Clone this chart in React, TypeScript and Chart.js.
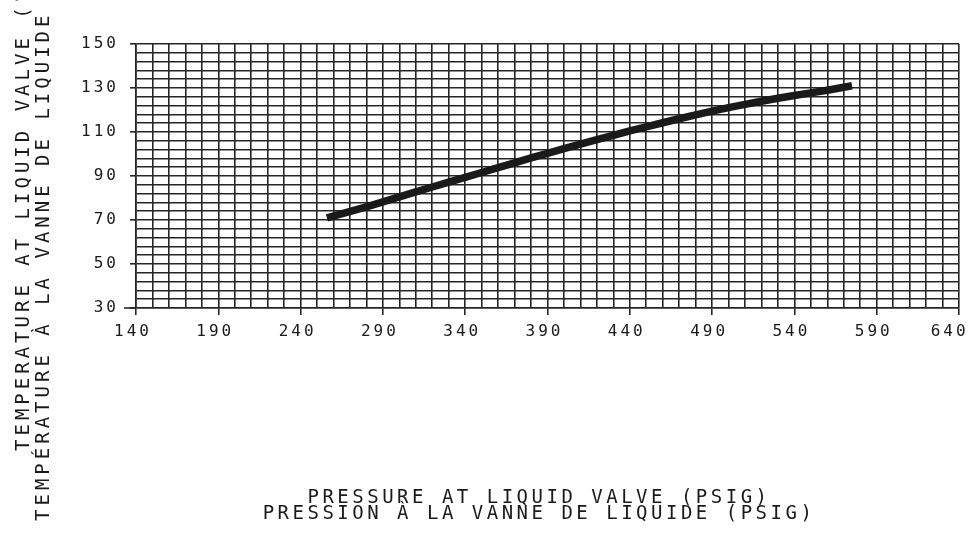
import React, { useEffect, useRef } from 'react';
import { Chart, registerables } from 'chart.js';

Chart.register(...registerables);

// Pressure at liquid valve (psig)
const pressure = [256, 280, 300, 320, 340, 360, 380, 400, 420, 440, 460, 480, 500, 520, 540, 560, 575];
// Temperature at liquid valve (°F)
const temperature = [71.0, 76.0, 80.5, 85.0, 89.4, 93.8, 98.2, 102.4, 106.5, 110.5, 114.2, 117.8, 121.1, 124.0, 126.6, 129.0, 131.0];

const xTickLabels = [140, 190, 240, 290, 340, 390, 440, 490, 540, 590, 640];
const yTickLabels = [30, 50, 70, 90, 110, 130, 150];

const xTitleLines = ['PRESSURE AT LIQUID VALVE (PSIG)', 'PRESSION À LA VANNE DE LIQUIDE (PSIG)'];
const yTitleLines = ['TEMPERATURE AT LIQUID VALVE (°F)', 'TEMPÉRATURE À LA VANNE DE LIQUIDE (°F)'];

const INK = '#1a1a1a';
const GRID = '#262626';
const FONT = '"DejaVu Sans Mono", monospace';

const spacingPlugin = {
  id: 'letterSpacing',
  beforeUpdate(chart: any) {
    (chart.ctx as any).letterSpacing = '3px';
  },
  beforeDraw(chart: any) {
    (chart.ctx as any).letterSpacing = '3px';
  },
};

const titlesPlugin = {
  id: 'cadTitles',
  afterDraw(chart: any) {
    const ctx = chart.ctx as CanvasRenderingContext2D;
    const area = chart.chartArea;
    ctx.save();
    // axis line extension at the lower-left corner
    ctx.strokeStyle = GRID;
    ctx.lineWidth = 1.6;
    ctx.beginPath();
    ctx.moveTo(area.left - 12, area.bottom);
    ctx.lineTo(area.left, area.bottom);
    ctx.stroke();

    ctx.fillStyle = INK;
    ctx.font = '19px ' + FONT;
    (ctx as any).letterSpacing = '3.5px';
    ctx.textBaseline = 'alphabetic';
    ctx.textAlign = 'center';
    ctx.fillText(xTitleLines[0], 539, 503);
    ctx.fillText(xTitleLines[1], 539, 519);

    (ctx as any).letterSpacing = '4px';
    ctx.textAlign = 'left';
    const starts = [
      [29, 451],
      [49, 521],
    ];
    yTitleLines.forEach((t, i) => {
      ctx.save();
      ctx.translate(starts[i][0], starts[i][1]);
      ctx.rotate(-Math.PI / 2);
      ctx.fillText(t, 0, 0);
      ctx.restore();
    });
    ctx.restore();
  },
};

export default function App() {
  const ref = useRef<HTMLCanvasElement | null>(null);

  useEffect(() => {
    document.body.style.margin = '0';
    const canvas = ref.current;
    if (!canvas) return;
    const lastX = xTickLabels[xTickLabels.length - 1];
    const chart = new Chart(canvas, {
      type: 'line',
      data: {
        datasets: [
          {
            data: pressure.map((p, i) => ({ x: p, y: temperature[i] })),
            borderColor: INK,
            borderWidth: 7.5,
            pointRadius: 0,
            tension: 0.2,
            fill: false,
          },
        ],
      },
      options: {
        animation: false,
        responsive: false,
        devicePixelRatio: 1,
        layout: { padding: { top: 44, right: 12, left: 0, bottom: 0 } },
        plugins: {
          legend: { display: false },
          tooltip: { enabled: false },
          title: { display: false },
        },
        scales: {
          x: {
            type: 'linear',
            min: 140,
            max: 640,
            afterFit(scale: any) {
              scale.height = 227;
              scale.paddingLeft = 0;
              scale.paddingRight = 0;
            },
            grid: {
              color: GRID,
              lineWidth: 1.6,
              tickLength: 7,
              tickColor: (c: any) => (xTickLabels.includes(c.tick?.value) ? GRID : 'rgba(0,0,0,0)'),
            },
            border: { display: true, color: GRID, width: 1.6 },
            ticks: {
              stepSize: 10,
              autoSkip: false,
              maxRotation: 0,
              minRotation: 0,
              padding: 7,
              labelOffset: -3,
              color: INK,
              font: { family: FONT, size: 16 },
              callback: (v: any) => {
                const n = Number(v);
                if (!xTickLabels.includes(n)) return '';
                return n === lastX ? String(n) + ' ' : String(n);
              },
            },
          },
          y: {
            type: 'linear',
            min: 30,
            max: 150,
            afterFit(scale: any) {
              scale.width = 136;
              scale.paddingTop = 0;
              scale.paddingBottom = 0;
            },
            grid: {
              color: GRID,
              lineWidth: 1.6,
              tickLength: 6,
              tickColor: (c: any) => (yTickLabels.includes(c.tick?.value) ? GRID : 'rgba(0,0,0,0)'),
            },
            border: { display: true, color: GRID, width: 1.6 },
            ticks: {
              stepSize: 4,
              autoSkip: false,
              padding: 11,
              color: INK,
              font: { family: FONT, size: 16 },
              callback: (v: any) => (yTickLabels.includes(Number(v)) ? String(v) : ''),
            },
          },
        },
      },
      plugins: [spacingPlugin, titlesPlugin],
    });
    return () => chart.destroy();
  }, []);

  return (
    <div style={{ width: 971, height: 535, background: '#fff' }}>
      <canvas ref={ref} width={971} height={535} style={{ display: 'block' }} />
    </div>
  );
}
